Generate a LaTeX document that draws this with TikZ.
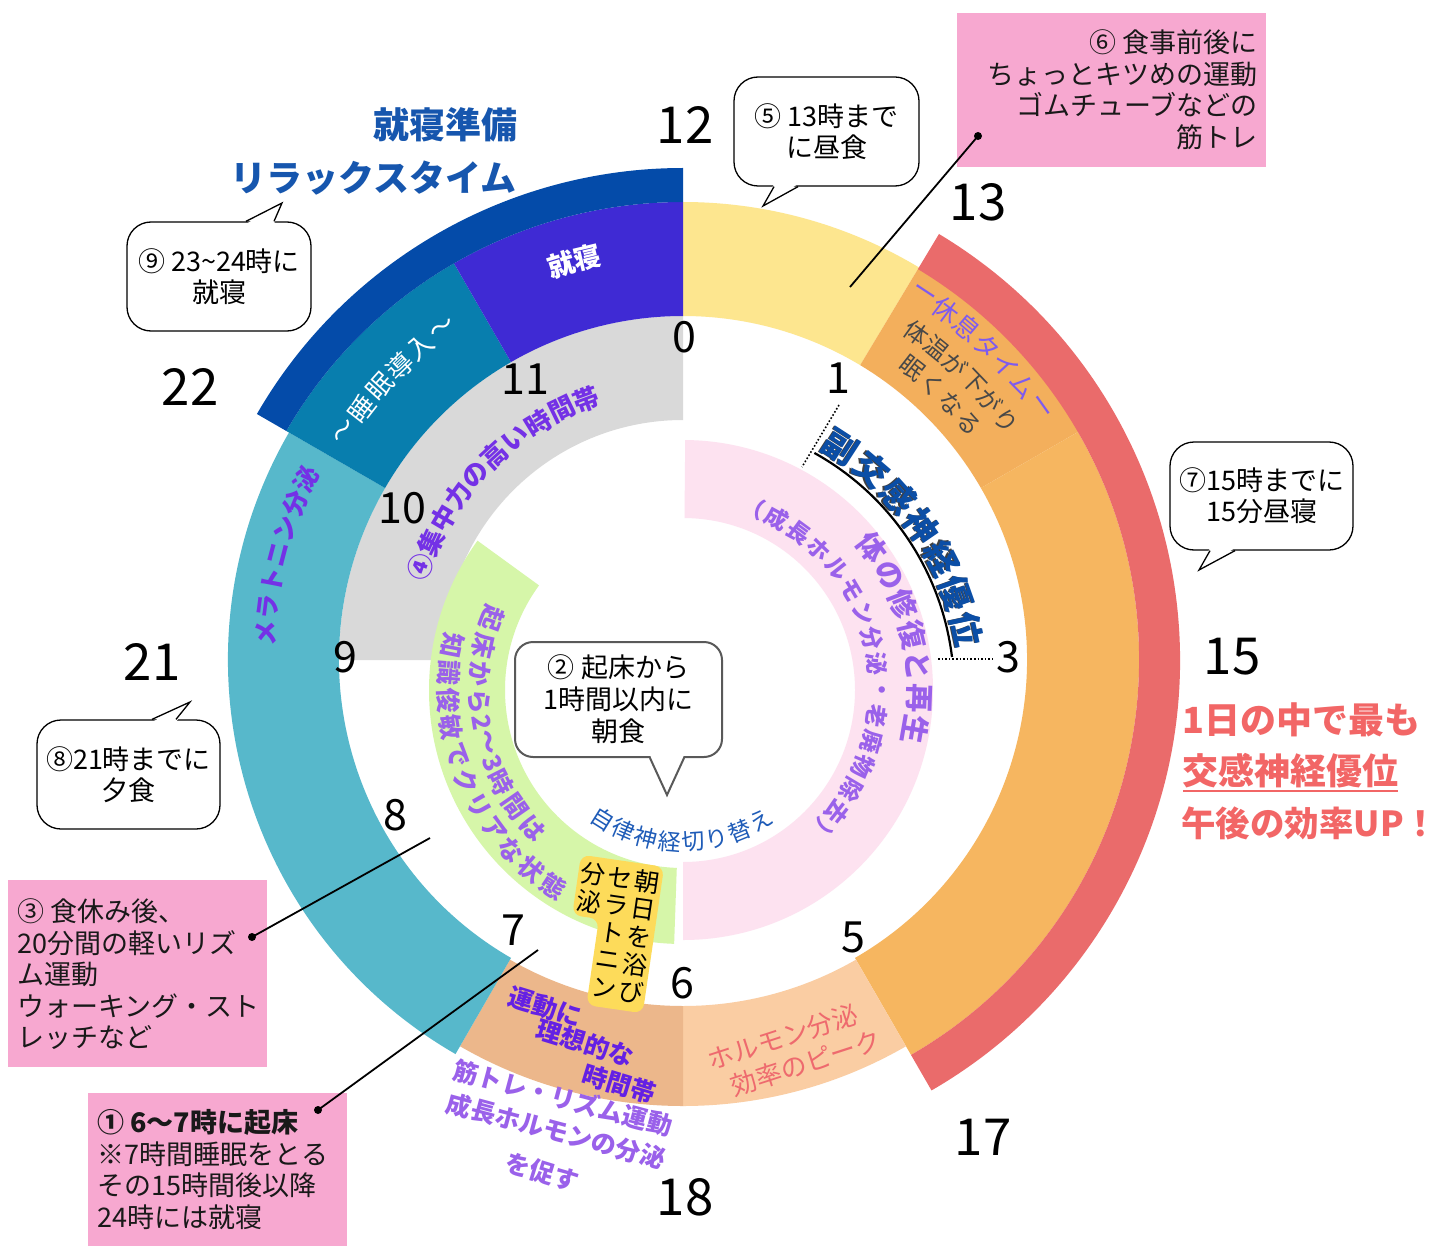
\documentclass[tikz,border=0pt]{standalone}
\usepackage{fontspec}
\setmainfont{Noto Sans CJK JP}
\usetikzlibrary{calc}

\definecolor{cGray}{HTML}{D9D9D9}
\definecolor{cYel}{HTML}{FDE68F}
\definecolor{cOrD}{HTML}{F3AF5C}
\definecolor{cOr}{HTML}{F6B660}
\definecolor{cRed}{HTML}{EA6B6B}
\definecolor{cPeach}{HTML}{FACDA3}
\definecolor{cTan}{HTML}{ECB78B}
\definecolor{cTeal}{HTML}{57B8CB}
\definecolor{cDTeal}{HTML}{087EAE}
\definecolor{cPurp}{HTML}{3F2AD4}
\definecolor{cDBlue}{HTML}{044BA9}
\definecolor{cPinkIn}{HTML}{FDE2F0}
\definecolor{cGreen}{HTML}{D6F6A9}
\definecolor{cPinkBox}{HTML}{F7A8D0}
\definecolor{cYBox}{HTML}{FDDB5A}
\definecolor{tRed}{HTML}{F26666}
\definecolor{tPurp}{HTML}{7431E6}
\definecolor{tPurp2}{HTML}{6420E4}
\definecolor{tLav}{HTML}{9A61EA}
\definecolor{tLavB}{HTML}{7E5BEF}
\definecolor{tBlue}{HTML}{1656AE}
\definecolor{tBlue2}{HTML}{1F5CB8}
\definecolor{tNavy}{HTML}{0B4EA6}
\definecolor{tSalmon}{HTML}{EE6A6E}
\definecolor{tDark}{HTML}{484848}

\newcommand{\myfs}[1]{\fontsize{#1}{#1}\selectfont}
\newcommand{\myfsl}[2]{\fontsize{#1}{#2}\selectfont}

% annular sector: fill, center, theta1, theta2 (clock degrees), r-in, r-out
\newcommand{\annsec}[6]{%
  \pgfmathsetmacro\myPa{90-(#3)}\pgfmathsetmacro\myPb{90-(#4)}%
  \fill[#1] ($(#2)+(\myPa:#6)$) arc[start angle=\myPa, end angle=\myPb, radius=#6]
     -- ($(#2)+(\myPb:#5)$) arc[start angle=\myPb, end angle=\myPa, radius=#5] -- cycle;}

% text along arc: center, radius, start angle, step, rotation offset, style, list
\newcommand{\myarctext}[7]{%
  \foreach \cc [count=\nn from 0] in {#7}{%
    \pgfmathsetmacro\myang{#3+\nn*(#4)}%
    \pgfmathsetmacro\myrot{\myang+(#5)}%
    \node[#6, rotate=\myrot, inner sep=0pt] at ($(#1)+(\myang:#2)$) {\cc};
  }}
\newcommand{\myarctextp}[7]{%
  \foreach \pp/\cc in {#7}{%
    \pgfmathsetmacro\myang{#3+\pp*(#4)}%
    \pgfmathsetmacro\myrot{\myang+(#5)}%
    \node[#6, rotate=\myrot, inner sep=0pt] at ($(#1)+(\myang:#2)$) {\cc};
  }}

\begin{document}
\begin{tikzpicture}[x=1pt,y=1pt,
  mynum/.style={font=\myfs{51}, text=black, inner sep=0pt},
  myinum/.style={font=\myfs{43}, text=black, inner sep=0pt},
  mybubble/.style={draw=black, line width=1.3, fill=white, rounded corners=24, align=center, font=\myfsl{27}{31}, inner sep=4pt},
  mypinkbox/.style={fill=cPinkBox, inner sep=0pt},
  myboxtxt/.style={font=\myfsl{27}{31.5}, text=black!90, inner sep=0pt},
  myleader/.style={line width=1.8, black},
  mydots/.style={dotted, line width=1.6, black}]
\useasboundingbox (0,0) rectangle (1447,-1246);
\fill[white] (0,0) rectangle (1447,-1246);
\coordinate (C) at (683,-660);
\coordinate (Ci) at (683,-690);

% ---- outer and middle rings ----
\annsec{cGray}{C}{270}{360}{240}{344}
\annsec{cYel}{C}{0}{31}{344}{458}
\annsec{cOrD}{C}{31}{60}{344}{457}
\annsec{cOr}{C}{60}{150}{344}{456}
\annsec{cRed}{C}{31}{150}{456}{497}
\annsec{cPeach}{C}{150}{180}{346}{446}
\annsec{cTan}{C}{180}{210}{346}{446}
\annsec{cTeal}{C}{210}{300}{344}{455}
\annsec{cDTeal}{C}{300}{330}{344}{458}
\annsec{cPurp}{C}{330}{360}{344}{458}
\annsec{cDBlue}{C}{300}{360}{458}{492}
% ---- inner ring ----
\annsec{cPinkIn}{Ci}{0.5}{180}{172}{250}
\annsec{cGreen}{Ci}{182}{306}{178}{254}

% ---- titles ----
\node[anchor=east, font=\myfs{36}\bfseries, text=tBlue, inner sep=0pt] (ttl1) at (518,-125) {就寝準備};
\node[anchor=east, font=\myfs{36}\bfseries, text=tBlue, inner sep=0pt] (ttl2) at (517,-178) {リラックスタイム};

% ---- clock numbers ----
\node[mynum] (n12) at (685,-125) {12};
\node[mynum] (n13) at (978,-202) {13};
\node[mynum] (n15) at (1232,-657) {15};
\node[mynum] (n17) at (983,-1137) {17};
\node[mynum] (n18) at (685,-1197) {18};
\node[mynum] (n21) at (152,-662) {21};
\node[mynum] (n22) at (190,-387) {22};
\node[myinum] (i0) at (684,-337) {0};
\node[myinum] (i1) at (838,-378) {1};
\node[myinum] (i3) at (1008,-657) {3};
\node[myinum] (i5) at (853,-937) {5};
\node[myinum] (i6) at (682,-983) {6};
\node[myinum] (i7) at (513,-930) {7};
\node[myinum] (i8) at (395,-815) {8};
\node[myinum] (i9) at (345,-657) {9};
\node[myinum] (i10) at (402,-508) {10};
\node[myinum] (i11) at (525,-379) {11};

% dotted markers
\coordinate (d1s) at (839,-405);
\coordinate (d1e) at (802,-467);
\coordinate (d3s) at (938,-659);
\coordinate (d3e) at (993,-659);
\draw[mydots] (d1s) -- (d1e);
\draw[mydots] (d3s) -- (d3e);

% ---- ring texts ----
\myarctext{C}{414}{107.1}{-3.8}{-90}{font=\myfs{27}\bfseries, text=white}{就,寝}
\myarctext{C}{408}{146}{-4}{-90}{font=\myfs{26}, text=white}{〜,睡,眠,導,入,〜}
\myarctext{C}{418}{176.4}{-3.67}{-90}{font=\myfs{25}\bfseries, text=tPurp}{メ,ラ,ト,ニ,ン,分,泌}
\myarctext{C}{278}{160.5}{-5.58}{-90}{font=\myfs{26}\bfseries, text=tPurp}{④,集,中,力,の,高,い,時,間,帯}
\myarctext{C}{437}{56.6}{-3.55}{-90}{font=\myfs{26}, text=tLavB}{ー,休,息,タ,イ,ム,ー}
\myarctext{C}{402}{54.5}{-3.58}{-90}{font=\myfs{24}, text=tDark}{体,温,が,下,が,り}
\myarctext{C}{371}{51.8}{-4.07}{-90}{font=\myfs{24}, text=tDark}{眠,く,な,る}

% parasympathetic label with underline
\draw[line width=2.2, black] ($(Ci)+(61:271)$) arc[start angle=61, end angle=7, radius=271];
\myarctext{Ci}{288.8}{57.15}{-7.5}{-90}{font=\myfs{34}\bfseries, text=black!75}{副,交,感,神,経,優,位}
\myarctext{Ci}{290}{57}{-7.5}{-90}{font=\myfs{34}\bfseries, text=tNavy}{副,交,感,神,経,優,位}

\myarctext{Ci}{236}{37}{-7.8}{-90}{font=\myfs{29}\bfseries, text=tLav}{体,の,修,復,と,再,生}
\myarctext{Ci}{196}{69}{-7.67}{-90}{font=\myfs{23}\bfseries, text=tLav}{（,成,長,ホ,ル,モ,ン,分,泌,・,老,廃,物,除,去,）}
\myarctext{Ci}{152}{-122}{9}{90}{font=\myfs{23}, text=tBlue2}{自,律,神,経,切,り,替,え}
\myarctextp{Ci}{204}{-200.5}{7.9}{90}{font=\myfs{25}\bfseries, text=tLav}{0/起,1/床,2/か,3/ら,3.75/2,4.5/〜,5.25/3,6/時,7/間,8/は}
\myarctext{Ci}{235}{-191}{6.75}{90}{font=\myfs{25}\bfseries, text=tLav}{知,識,俊,敏,で,ク,リ,ア,な,状,態}

% bottom band texts
\node[font=\myfs{25}\bfseries, text=tPurp2, rotate=-17, inner sep=0pt] (u1) at (545,-1007) {運動に};
\node[font=\myfs{25}\bfseries, text=tPurp2, rotate=-17, inner sep=0pt] (u2) at (585,-1043) {理想的な};
\node[font=\myfs{25}\bfseries, text=tPurp2, rotate=-17, inner sep=0pt] (u3) at (619,-1084) {時間帯};
\node[font=\myfs{26}, text=tSalmon, rotate=18, inner sep=0pt] (h1) at (783,-1037) {ホルモン分泌};
\node[font=\myfs{26}, text=tSalmon, rotate=18, inner sep=0pt] (h2) at (806,-1063) {効率のピーク};
\node[font=\myfs{25}\bfseries, text=tLav, rotate=-15, inner sep=0pt] (g1) at (563,-1098) {筋トレ・リズム運動};
\node[font=\myfs{25}\bfseries, text=tLav, rotate=-15, inner sep=0pt] (g2) at (556,-1131) {成長ホルモンの分泌};
\node[font=\myfs{25}\bfseries, text=tLav, rotate=-17, inner sep=0pt] (g3) at (542,-1172) {を促す};

% ---- yellow vertical box ----
\begin{scope}[shift={(612,-933)}, rotate=-8.3, transform shape]
  \fill[cYBox, rounded corners=9] (-42,73) -- (42,73) -- (42,-75) -- (-15,-75) -- (-15,12) -- (-42,12) -- cycle;
  \foreach \cc [count=\nn from 0] in {朝,日,を,浴,び}
    \node[font=\myfs{25}, inner sep=0pt] at (27.5,55.6-27.8*\nn) {\cc};
  \foreach \cc [count=\nn from 0] in {セ,ラ,ト,ニ,ン}
    \node[font=\myfs{25}, inner sep=0pt] at (0,55.6-27.8*\nn) {\cc};
  \foreach \cc [count=\nn from 0] in {分,泌}
    \node[font=\myfs{25}, inner sep=0pt] at (-27.5,55.6-27.8*\nn) {\cc};
\end{scope}

% ---- pink boxes and leaders ----
\node[mypinkbox, minimum width=309, minimum height=154, anchor=north west] (b6) at (957,-13) {};
\node[myboxtxt, anchor=east, align=right] (t6) at (1258,-89.5) {⑥ 食事前後に\\ちょっとキツめの運動\\ゴムチューブなどの\\筋トレ};
\node[mypinkbox, minimum width=259, minimum height=187, anchor=north west] (b3) at (8,-880) {};
\node[myboxtxt, anchor=west, align=left] (t3) at (17,-974.5) {③ 食休み後、\\20分間の軽いリズ\\ム運動\\ウォーキング・スト\\レッチなど};
\node[mypinkbox, minimum width=259, minimum height=154, anchor=north west] (b1) at (88,-1093) {};
\node[myboxtxt, anchor=west, align=left] (t1) at (97,-1169.5) {\textbf{① 6〜7時に起床}\\※7時間睡眠をとる\\その15時間後以降\\24時には就寝};

\coordinate (p6) at (978,-136);
\coordinate (q6) at (850,-287);
\coordinate (p3) at (252,-937);
\coordinate (q3) at (430,-838);
\coordinate (p1) at (318,-1110);
\coordinate (q1) at (538,-950);
\draw[myleader] (p6) -- (q6);
\draw[myleader] (p3) -- (q3);
\draw[myleader] (p1) -- (q1);
\fill (p6) circle (4);
\fill (p3) circle (4);
\fill (p1) circle (4);

% ---- red emphasis text ----
\node[anchor=west, font=\myfs{36}\bfseries, text=tRed, inner sep=0pt] (r1) at (1182,-720) {1日の中で最も};
\node[anchor=west, font=\myfs{36}\bfseries, text=tRed, inner sep=0pt] (r2) at (1182,-771) {交感神経優位};
\node[anchor=west, font=\myfs{34.5}\bfseries, text=tRed, inner sep=0pt] (r3) at (1181,-823) {午後の効率UP！};
\draw[tRed, line width=2.5] ($(r2.base west)+(1,-6)$) -- ($(r2.base east)+(0,-6)$);

% ---- speech bubbles ----
\node[mybubble, minimum width=185, minimum height=109] (c5) at (826.5,-131.5) {⑤ 13時まで\\に昼食};
\fill[white] (774,-184) -- (763,-206) -- (798,-184) -- cycle;
\draw[line width=1.3] ($(c5.south)+(-52.5,0)$) -- (763,-206) -- ($(c5.south)+(-28.5,0)$);

\node[mybubble, minimum width=184, minimum height=109] (c9) at (219,-276.5) {⑨ 23\textasciitilde 24時に\\就寝};
\fill[white] (246,-224) -- (282,-203) -- (274,-224) -- cycle;
\draw[line width=1.3] ($(c9.north)+(27,0)$) -- (282,-203) -- ($(c9.north)+(55,0)$);

\node[mybubble, minimum width=183, minimum height=108] (c7) at (1261.5,-496) {⑦15時までに\\15分昼寝};
\fill[white] (1210,-548) -- (1199,-570) -- (1235,-548) -- cycle;
\draw[line width=1.3] ($(c7.south)+(-51.5,0)$) -- (1199,-570) -- ($(c7.south)+(-26.5,0)$);

\node[mybubble, minimum width=183, minimum height=109] (c8) at (128.5,-774.5) {⑧21時までに\\夕食};
\fill[white] (152,-722) -- (190,-702) -- (176,-722) -- cycle;
\draw[line width=1.3] ($(c8.north)+(23.5,0)$) -- (190,-702) -- ($(c8.north)+(47.5,0)$);

\node[draw=black!65, line width=2, fill=white, rounded corners=18, align=center, font=\myfsl{27}{32}, minimum width=207, minimum height=115] (c2) at (618.5,-699.5) {② 起床から\\1時間以内に\\朝食};
\fill[white] (650,-755) -- (667,-795) -- (684,-755) -- cycle;
\draw[line width=2, black!65] ($(c2.south)+(31.5,0)$) -- (667,-795) -- ($(c2.south)+(65.5,0)$);

\end{tikzpicture}
\end{document}
